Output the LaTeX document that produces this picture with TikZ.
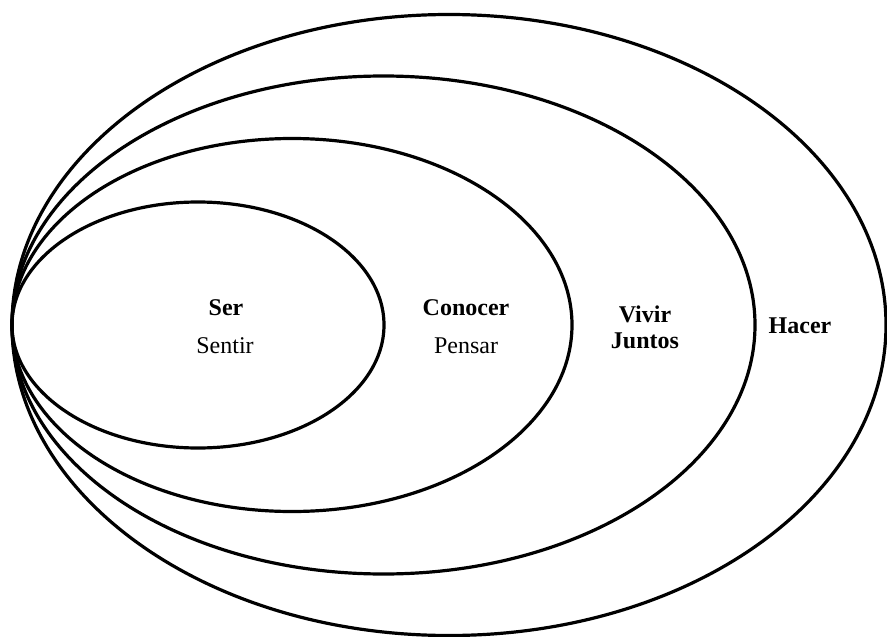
\documentclass[tikz,border=0pt]{standalone}
\usepackage{fontspec}
\setmainfont{Liberation Serif}
\begin{document}
\begin{tikzpicture}[x=1pt,y=-1pt,
  ring/.style={draw=black,line width=3.2pt},
  lbl/.style={font=\fontsize{24}{26}\selectfont\bfseries,align=center,inner sep=0pt},
  sub/.style={font=\fontsize{24}{26}\selectfont,inner sep=0pt}]
  \useasboundingbox (0,0) rectangle (887,637);
  % nested ellipses, all tangent at the left point
  \draw[ring] (449,325) ellipse [x radius=437, y radius=310.5];
  \draw[ring] (383.5,325) ellipse [x radius=371.5, y radius=249];
  \draw[ring] (292,325) ellipse [x radius=280, y radius=186.5];
  \draw[ring] (198,325) ellipse [x radius=186, y radius=123];
  % labels
  \node[lbl] (ser) at (226,308) {Ser};
  \node[sub] (sentir) at (225,346) {Sentir};
  \node[lbl] (conocer) at (466,308) {Conocer};
  \node[sub] (pensar) at (466,346) {Pensar};
  \node[lbl] (vivir) at (645,327) {Vivir\\Juntos};
  \node[lbl] (hacer) at (800,326) {Hacer};
\end{tikzpicture}
\end{document}
